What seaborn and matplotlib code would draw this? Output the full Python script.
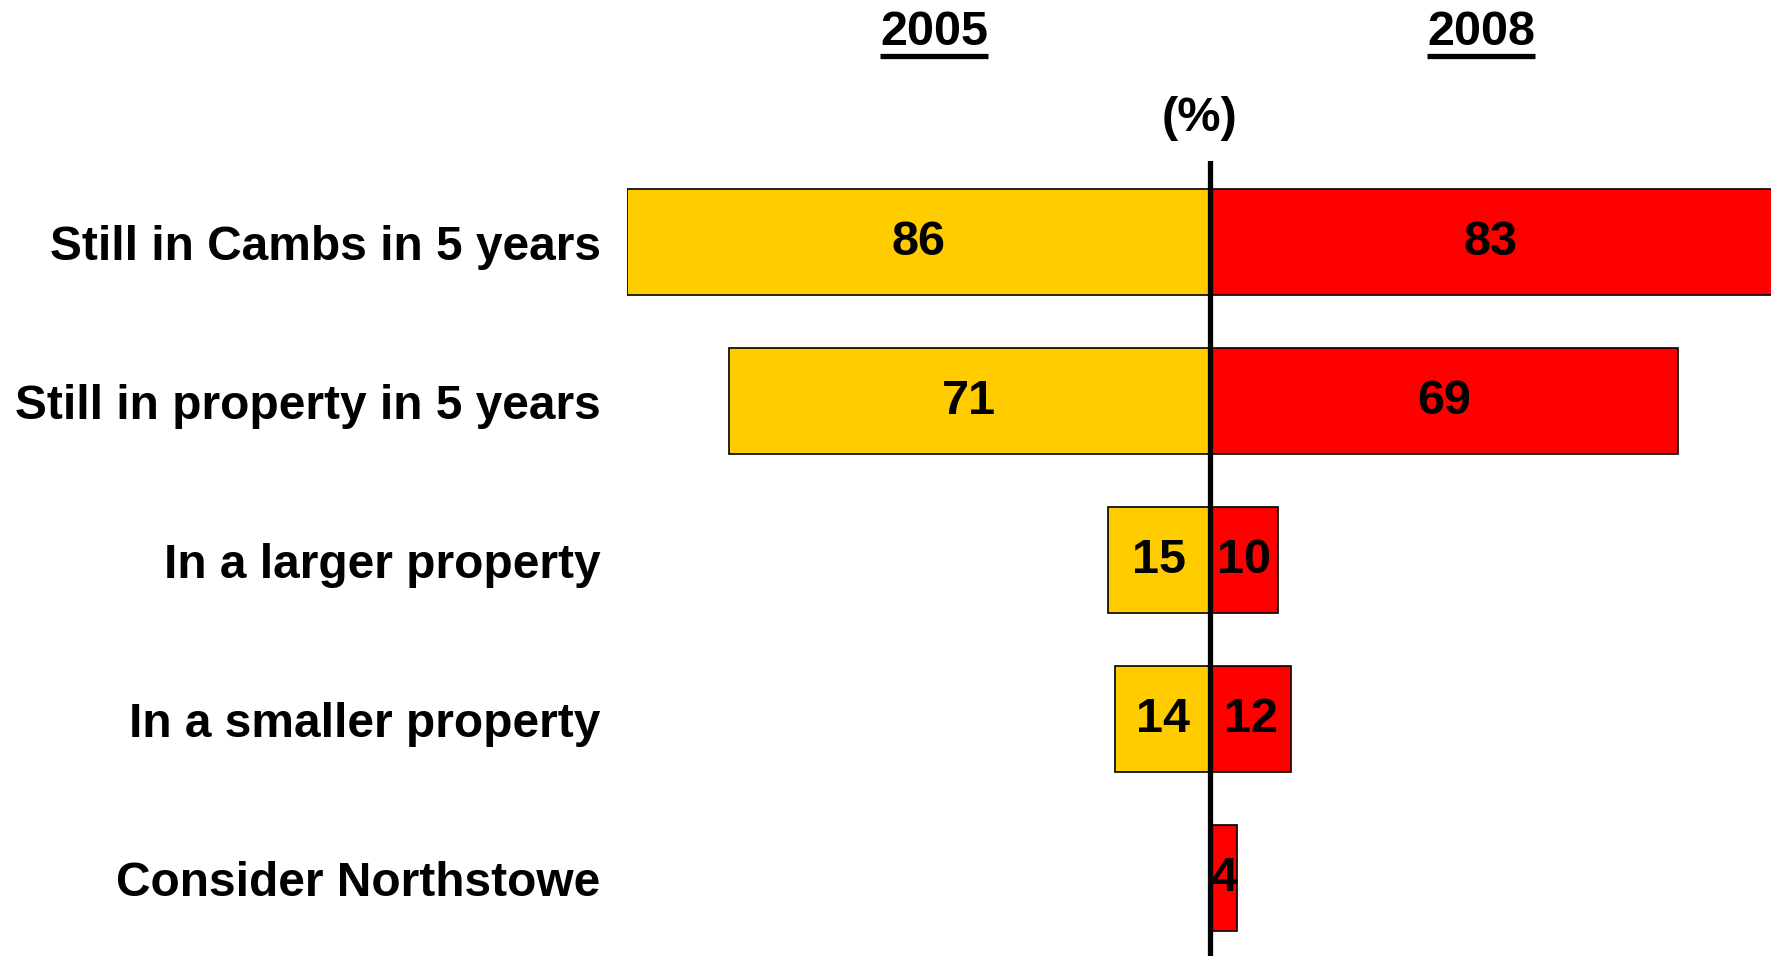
import numpy as np
import pandas as pd
import matplotlib
matplotlib.use("Agg")
import matplotlib.pyplot as plt
from matplotlib.lines import Line2D
import seaborn as sns

# chart data
categories = ["Still in Cambs in 5 years", "Still in property in 5 years",
              "In a larger property", "In a smaller property", "Consider Northstowe"]
years = ["2005", "2008"]
pct_2005 = [86, 71, 15, 14, np.nan]
pct_2008 = [83, 69, 10, 12, 4]
colors = {"2005": "#FFCC00", "2008": "#FF0000"}

df = pd.DataFrame({
    "category": categories * 2,
    "year": [years[0]] * len(categories) + [years[1]] * len(categories),
    "value": pct_2005 + pct_2008,
})
df = df.dropna()
# 2005 goes to the left of the centre line
df["signed"] = np.where(df["year"] == years[0], -df["value"], df["value"])

sns.set_style("white")
plt.rcParams["font.family"] = ["Liberation Sans", "DejaVu Sans"]
plt.rcParams["font.weight"] = "bold"
plt.rcParams["text.color"] = "black"
plt.rcParams["ytick.color"] = "black"
plt.rcParams["ytick.labelcolor"] = "black"

W, H = 1771, 956
fig = plt.figure(figsize=(W / 100, H / 100), dpi=100)
ax = fig.add_axes([627 / W, 0, 1 - 627 / W, 795 / H])

sns.barplot(data=df, x="signed", y="category", hue="year", order=categories,
            hue_order=years, palette=colors, dodge=False, width=0.67,
            saturation=1, edgecolor="black", linewidth=1.2, legend=False, ax=ax)

for cont in ax.containers:
    ax.bar_label(cont, labels=[f"{abs(v):.0f}" for v in cont.datavalues],
                 label_type="center", fontsize=35, fontweight="bold", color="black")

ax.axvline(0, color="black", lw=3.8, zorder=5)
ax.set_xlim(-86, 82.76)
ax.set_ylim(len(categories) - 0.51, -0.51)
ax.set_xlabel("")
ax.set_ylabel("")
ax.set_xticks([])
ax.tick_params(axis="y", length=0, pad=19, labelsize=34.5, labelcolor="black")
for lab in ax.get_yticklabels():
    lab.set_fontweight("bold")
sns.despine(ax=ax, left=True, bottom=True)

# year headers (underlined) and unit
trans = ax.get_xaxis_transform()
headers = []
for yr, xpos in zip(years, [-40.7, 40.0]):
    headers.append(ax.text(xpos, 1.162, yr, transform=trans, ha="center", va="center",
                           fontsize=35, fontweight="bold", color="black", clip_on=False))
ax.text(-1.5, 1.053, "(%)", transform=trans, ha="center", va="center",
        fontsize=35, fontweight="bold", color="black", clip_on=False)

fig.canvas.draw()
renderer = fig.canvas.get_renderer()
for t in headers:
    bb = t.get_window_extent(renderer)
    yline = bb.y0 - 1
    fig.add_artist(Line2D([bb.x0 / W, bb.x1 / W], [yline / H, yline / H],
                          transform=fig.transFigure, color="black", lw=3.8,
                          solid_capstyle="butt"))

fig.savefig("out.png", dpi=100)
